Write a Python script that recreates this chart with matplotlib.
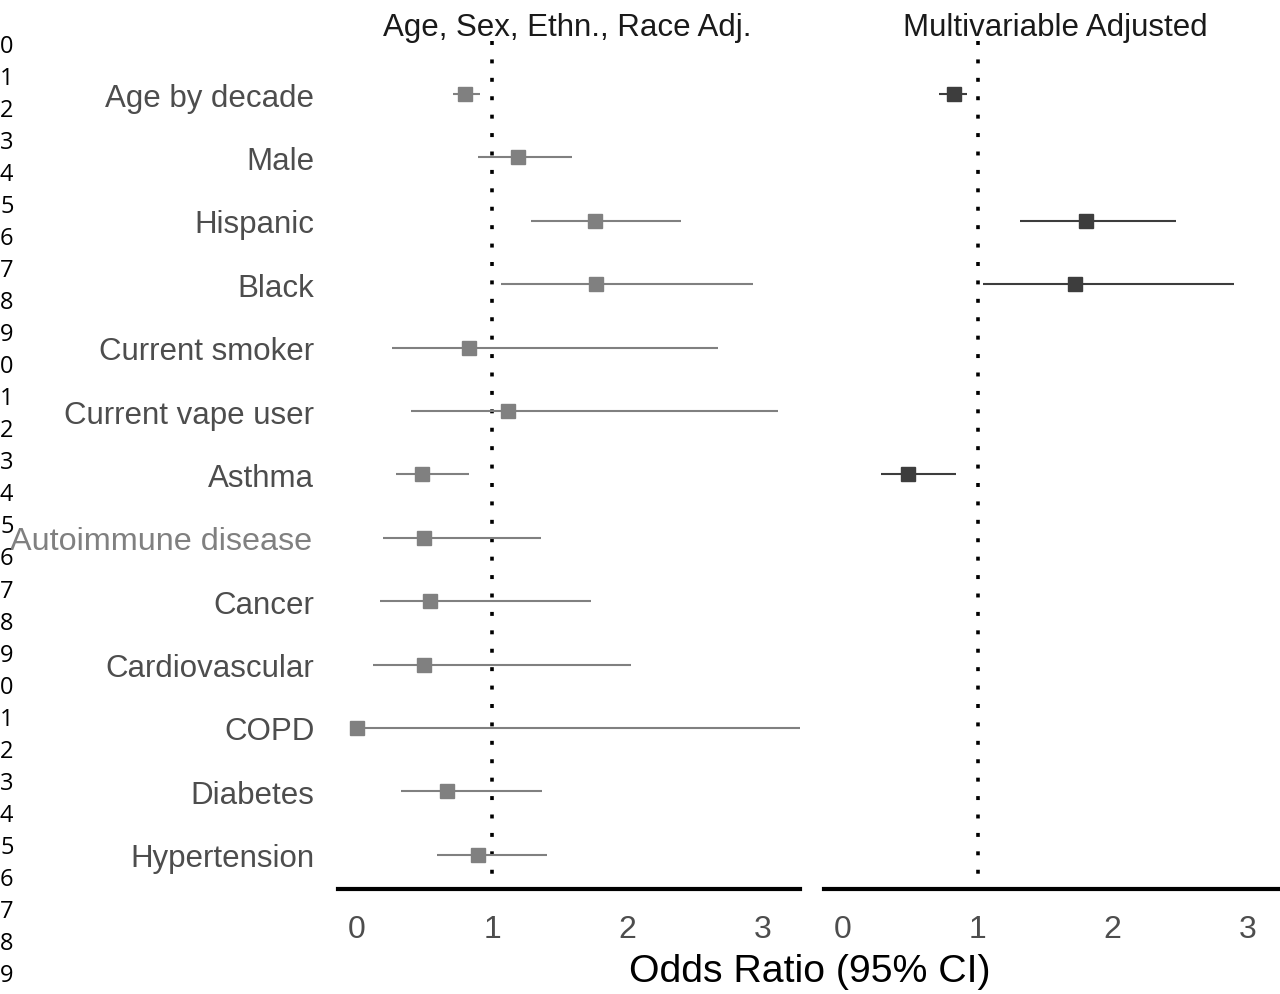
import numpy as np
import matplotlib
matplotlib.use("Agg")
import matplotlib.pyplot as plt

plt.rcParams['font.family'] = ['Liberation Sans', 'DejaVu Sans']

labels = ['Age by decade', 'Male', 'Hispanic', 'Black', 'Current smoker',
          'Current vape user', 'Asthma', 'Autoimmune disease', 'Cancer',
          'Cardiovascular', 'COPD', 'Diabetes', 'Hypertension']

# Age, sex, ethnicity, race adjusted
or_adj = [0.80, 1.19, 1.76, 1.77, 0.83, 1.12, 0.48, 0.50, 0.54, 0.50, 0.00, 0.67, 0.90]
lo_adj = [0.71, 0.90, 1.29, 1.07, 0.26, 0.40, 0.29, 0.19, 0.17, 0.12, 0.00, 0.33, 0.59]
hi_adj = [0.91, 1.59, 2.40, 2.93, 2.67, 3.12, 0.83, 1.36, 1.73, 2.03, 3.60, 1.37, 1.41]

# Multivariable adjusted
or_mv = [0.82, np.nan, 1.80, 1.72, np.nan, np.nan, 0.48, np.nan, np.nan, np.nan, np.nan, np.nan, np.nan]
lo_mv = [0.71, np.nan, 1.31, 1.04, np.nan, np.nan, 0.28, np.nan, np.nan, np.nan, np.nan, np.nan, np.nan]
hi_mv = [0.92, np.nan, 2.47, 2.90, np.nan, np.nan, 0.84, np.nan, np.nan, np.nan, np.nan, np.nan, np.nan]

xticks = [0, 1, 2, 3]
side_digits = [str(i % 10) for i in range(30)]

fig = plt.figure(figsize=(12.8, 9.95), dpi=100)
W, H = 1280, 995
ax1 = fig.add_axes([338 / W, 1 - 890 / H, 462 / W, 852 / H])
ax2 = fig.add_axes([824 / W, 1 - 890 / H, 456 / W, 852 / H])

ypos = np.arange(1, len(labels) + 1)
panels = [(ax1, or_adj, lo_adj, hi_adj, '#808080', 'Age, Sex, Ethn., Race Adj.', 3.28, 567),
          (ax2, or_mv, lo_mv, hi_mv, '#3d3d3d', 'Multivariable Adjusted', 3.24, 1055)]

for ax, est, lo, hi, col, title, xmax, tx in panels:
    est = np.array(est)
    lo = np.array(lo)
    hi = np.array(hi)
    ax.hlines(ypos, lo, hi, color=col, lw=1.5, zorder=2)
    ax.plot(est, ypos, 's', color=col, ms=10, zorder=3)
    # reference line at OR = 1
    ax.vlines(1, 0.17, 13.54, color='black', lw=2.6, linestyle=(0, (1.1, 4.0)), zorder=1)
    ax.set_xlim(-0.14, xmax)
    ax.set_ylim(13.54, 0.1)
    for s in ['top', 'right', 'left']:
        ax.spines[s].set_visible(False)
    ax.spines['bottom'].set_linewidth(3)
    ax.set_xticks(xticks)
    ax.set_xticklabels([str(t) for t in xticks])
    ax.tick_params(axis='x', length=0, pad=18, labelsize=23, labelcolor='#4d4d4d')
    fig.text(tx / W, 1 - 36 / H, title, fontsize=22.5, color='#1a1a1a',
             ha='center', va='baseline')

ax1.set_yticks(ypos)
ax1.set_yticklabels(labels)
ax1.tick_params(axis='y', length=0, pad=17, labelsize=22.5, labelcolor='#4d4d4d')
for t in ax1.get_yticklabels():
    if t.get_text() == 'Autoimmune disease':
        t.set_color('#808080')
        t.set_fontsize(23.3)
        t.set_x(-0.005)
ax2.set_yticks([])

fig.text(810 / W, 1 - 972 / H, 'Odds Ratio (95% CI)', fontsize=28.3,
         ha='center', va='center', color='black')

for i, d in enumerate(side_digits):
    fig.text(0, 1 - (47 + 32.03 * i) / H, d, fontsize=17, family=['Open Sans', 'DejaVu Sans'],
             ha='left', va='center', color='black')

fig.savefig('out.png', dpi=100)
